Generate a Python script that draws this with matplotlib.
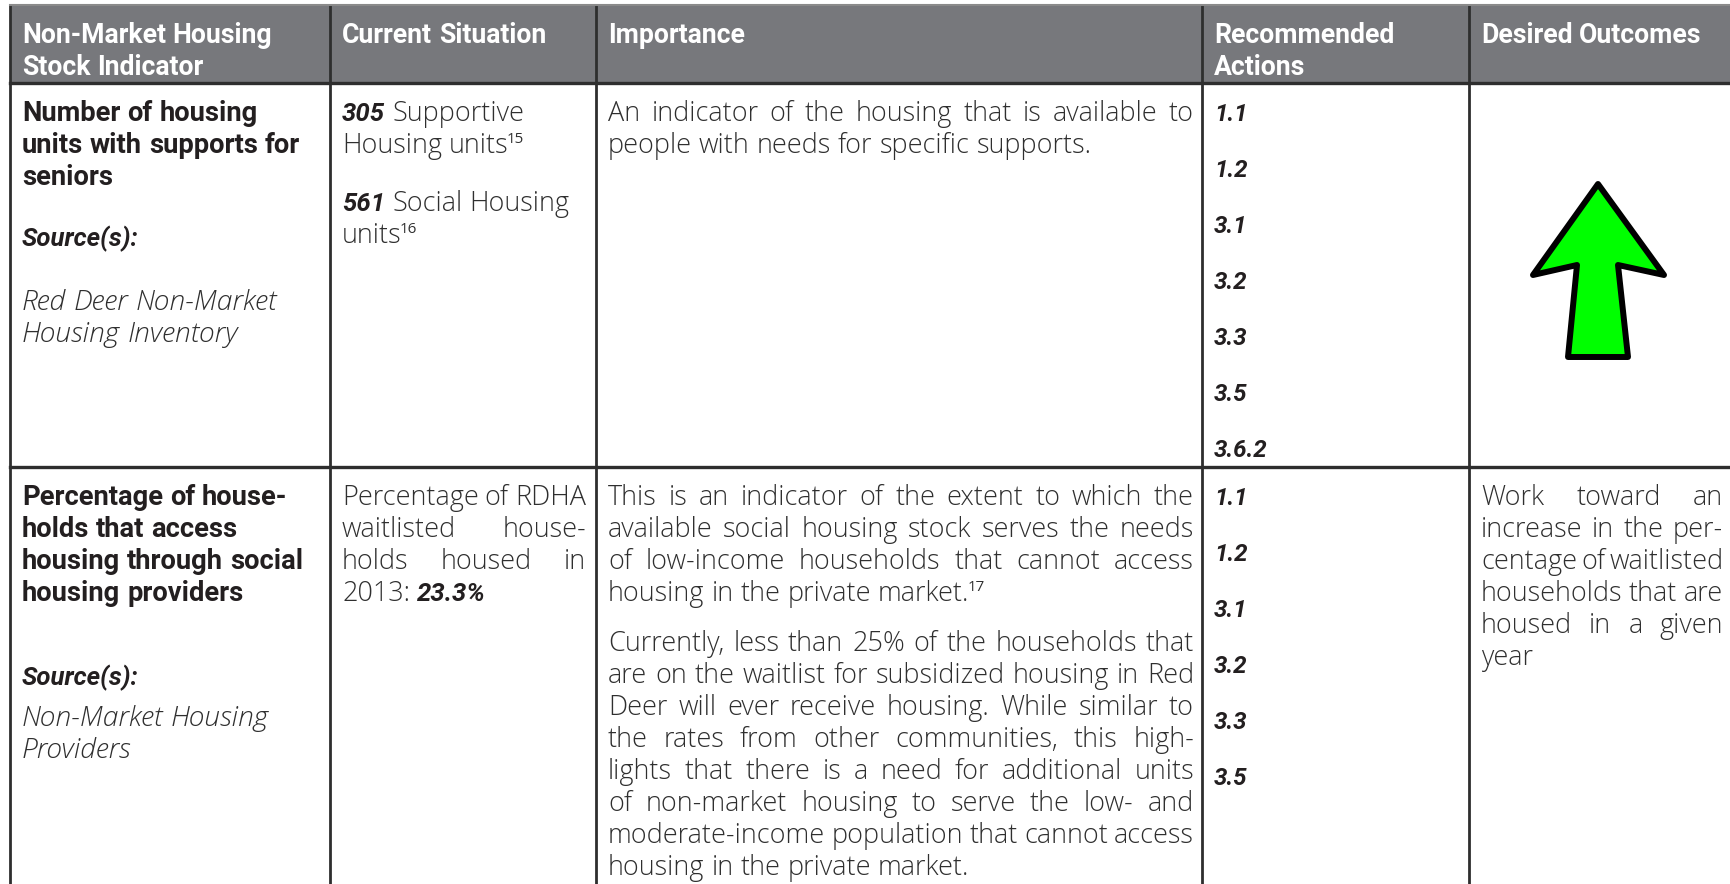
import matplotlib
matplotlib.use("Agg")
import matplotlib.pyplot as plt
from matplotlib.patches import Polygon, Rectangle

BODY_FONT = "Open Sans"
BOLD_FONT = "Roboto"

# ---- table content ----
headers = [
    ["Non-Market Housing", "Stock Indicator"],
    ["Current Situation"],
    ["Importance"],
    ["Recommended", "Actions"],
    ["Desired Outcomes"],
]

indicator_titles = [
    ["Number of housing", "units with supports for", "seniors"],
    ["Percentage of house-", "holds that access", "housing through social", "housing providers"],
]
indicator_sources = [
    ["Red Deer Non-Market", "Housing Inventory"],
    ["Non-Market Housing", "Providers"],
]

# "*" = bold italic word, "^" = superscript note
situation = [
    [["*305 Supportive", "Housing units^15"], ["*561 Social Housing", "units^16"]],
    [["Percentage of RDHA", "waitlisted house-", "holds housed in", "2013: *23.3%"]],
]
situation_justified = [False, True]

importance = [
    [["An indicator of the housing that is available to",
      "people with needs for specific supports."]],
    [["This is an indicator of the extent to which the",
      "available social housing stock serves the needs",
      "of low-income households that cannot access",
      "housing in the private market.^17"],
     ["Currently, less than 25% of the households that",
      "are on the waitlist for subsidized housing in Red",
      "Deer will ever receive housing. While similar to",
      "the rates from other communities, this high-",
      "lights that there is a need for additional units",
      "of non-market housing to serve the low- and",
      "moderate-income population that cannot access",
      "housing in the private market."]],
]

actions = [
    ["1.1", "1.2", "3.1", "3.2", "3.3", "3.5", "3.6.2"],
    ["1.1", "1.2", "3.1", "3.2", "3.3", "3.5"],
]

outcomes = [
    None,  # green up arrow
    [["Work toward an", "increase in the per-", "centage of waitlisted",
      "households that are", "housed in a given", "year"]],
]

# ---- layout ----
col_x = [10, 330, 596, 1202, 1469, 1733]
row_y = [5, 83, 467, 900]
PAD_L, PAD_R = 12, 8
LINE = 32
FIRST = 38
ACTION_STEP = 56
SOURCE_BEFORE = [61, 84]
SOURCE_AFTER = [64, 41]

HEAD_BG = "#77787c"
BORDER = "#2e2e2e"
TXT = "#2f2f2f"
DARK = "#231f20"

STYLES = {
    "light": dict(family=BODY_FONT, fontweight="light", color=TXT),
    "lighti": dict(family=BODY_FONT, fontweight="light", fontstyle="italic", color=TXT),
    "bold": dict(family=BOLD_FONT, fontweight="bold", color=DARK),
    "boldi": dict(family=BOLD_FONT, fontweight="bold", fontstyle="italic", color=DARK),
    "num": dict(family=BOLD_FONT, fontweight="bold", fontstyle="italic", color=DARK),
    "head": dict(family=BOLD_FONT, fontweight="bold", color="white"),
    "sup": dict(family=BODY_FONT, fontweight="normal", color=TXT),
}

fig = plt.figure(figsize=(17.3, 8.84), dpi=100)
ax = fig.add_axes([0, 0, 1, 1])
ax.set_xlim(0, 1730)
ax.set_ylim(884, 0)
ax.axis("off")
renderer = fig.canvas.get_renderer()


def make(x, y, s, style):
    t = ax.text(x, y, s, va="baseline", ha="left", **STYLES[style])
    return t, t.get_window_extent(renderer).width


# pick font sizes so sample strings get the widths seen in the picture
samples = {
    "light": ("housing in the private market.", 361),
    "lighti": ("Red Deer Non-Market", 255),
    "bold": ("units with supports for", 278),
    "boldi": ("Source(s):", 117),
    "num": ("3.6.2", 54),
    "head": ("Non-Market Housing", 250),
}
for key, (s, target) in samples.items():
    STYLES[key]["fontsize"] = 20
    t, w = make(0, -100, s, key)
    t.remove()
    STYLES[key]["fontsize"] = 20 * target / w
STYLES["sup"]["fontsize"] = STYLES["light"]["fontsize"] * 0.56
FS_PX = STYLES["light"]["fontsize"] * 100 / 72

_space = {}


def space_w(style):
    if style not in _space:
        t1, w1 = make(0, -100, "n n", style)
        t2, w2 = make(0, -100, "nn", style)
        t1.remove()
        t2.remove()
        _space[style] = w1 - w2
    return _space[style]


def split_word(word, style):
    pieces = []
    if word.startswith("*"):
        word, style = word[1:], "boldi"
    if "^" in word:
        base, note = word.split("^")
        pieces.append((base, style))
        pieces.append((note, "sup"))
    else:
        pieces.append((word, style))
    return pieces


def put_line(text, x0, x1, y, style, justify=False):
    words = [split_word(w, style) for w in text.split(" ")]
    objs = []
    widths = []
    for pieces in words:
        group = []
        w = 0
        for s, st in pieces:
            if st == "sup":
                w -= 2
            t, tw = make(x0, y, s, st)
            group.append((t, w, st))
            w += tw
        objs.append(group)
        widths.append(w)
    sp = space_w(style)
    if justify and len(words) > 1:
        gap = max((x1 - x0 - sum(widths)) / (len(words) - 1), 0.6 * sp)
    else:
        gap = sp
    x = x0
    for group, w in zip(objs, widths):
        for t, off, st in group:
            dy = -0.38 * FS_PX if st == "sup" else 0
            t.set_position((x + off, y + dy))
        x += w + gap


def put_paragraphs(paras, x0, x1, y, style, justify, para_gap):
    for p in paras:
        for i, line in enumerate(p):
            put_line(line, x0, x1, y, style, justify and i < len(p) - 1)
            y += LINE
        y += para_gap


# ---- header ----
ax.add_patch(Rectangle((col_x[0], row_y[0]), col_x[-1] - col_x[0], row_y[1] - row_y[0],
                       facecolor=HEAD_BG, edgecolor="none"))
for c, lines in enumerate(headers):
    for i, s in enumerate(lines):
        put_line(s, col_x[c] + PAD_L, col_x[c + 1] - PAD_R, row_y[0] + 38 + i * LINE, "head")

# ---- body rows ----
for r in range(2):
    top = row_y[r + 1]
    y0 = top + FIRST
    # indicator
    x0, x1 = col_x[0] + PAD_L, col_x[1] - PAD_R
    y = y0
    for s in indicator_titles[r]:
        put_line(s, x0, x1, y, "bold")
        y += LINE
    y += SOURCE_BEFORE[r] - LINE
    put_line("Source(s):", x0, x1, y, "boldi")
    y += SOURCE_AFTER[r]
    for s in indicator_sources[r]:
        put_line(s, x0, x1, y, "lighti")
        y += LINE
    # current situation
    put_paragraphs(situation[r], col_x[1] + PAD_L, col_x[2] - PAD_R - 2, y0, "light",
                   situation_justified[r], 26)
    # importance
    put_paragraphs(importance[r], col_x[2] + PAD_L, col_x[3] - PAD_R, y0, "light", True, 18)
    # recommended actions
    for i, a in enumerate(actions[r]):
        put_line(a, col_x[3] + PAD_L, col_x[4] - PAD_R, y0 + i * ACTION_STEP, "num")
    # desired outcomes
    if outcomes[r] is None:
        cx = (col_x[4] + col_x[5]) / 2 - 3
        tip = top + 101
        shape = [(0, 0), (-65, 91), (-21, 81), (-30, 173), (30, 173), (20, 81), (66, 91)]
        ax.add_patch(Polygon([(cx + dx, tip + dy) for dx, dy in shape], closed=True,
                             facecolor="#00ff00", edgecolor="black", lw=4.3,
                             joinstyle="round"))
    else:
        put_paragraphs(outcomes[r], col_x[4] + PAD_L, 1723, y0, "light", True, 18)

# ---- grid lines ----
for x in col_x:
    ax.plot([x, x], [row_y[0], row_y[-1]], color=BORDER, lw=2.0, solid_capstyle="butt")
ax.plot([col_x[0], col_x[-1]], [row_y[0], row_y[0]], color="#8a8a8a", lw=1.5)
ax.plot([col_x[0], col_x[-1]], [row_y[1], row_y[1]], color=BORDER, lw=2.4)
ax.plot([col_x[0], col_x[-1]], [row_y[2], row_y[2]], color=BORDER, lw=2.4)

fig.savefig("out.png", dpi=100, facecolor="white")
